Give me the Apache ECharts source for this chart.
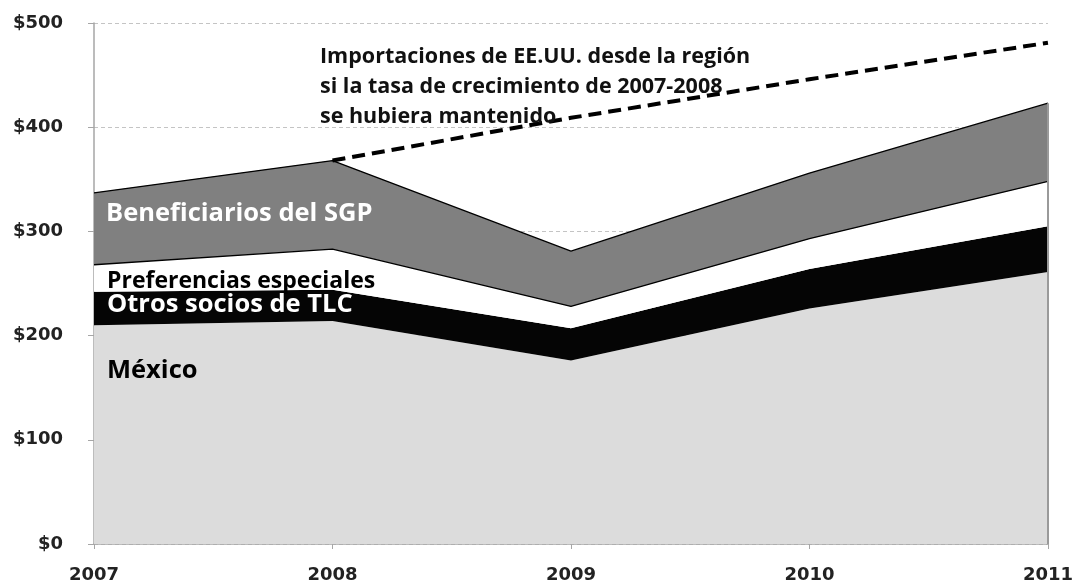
<!DOCTYPE html>
<html>
<head>
<meta charset="utf-8">
<title>Importaciones de EE.UU.</title>
<script src="https://cdn.jsdelivr.net/npm/echarts@6/dist/echarts.min.js"></script>
<style>
  html, body { margin: 0; padding: 0; background: #fff; }
  #chart { width: 1076px; height: 584px; }
</style>
</head>
<body>
<div id="chart"></div>
<script>
// datos (miles de millones de US$)
var years = ['2007', '2008', '2009', '2010', '2011']
var mexico = [210, 214, 176, 226, 261]
var otrosTLC = [32, 30, 31, 38, 44]
var preferencias = [26, 39, 21, 29, 43]
var sgp = [69, 85, 53, 63, 75]
// proyeccion con la tasa de 2007-2008
var proyeccion = [null, 368, 409, 446, 481]
var yTicks = [0, 100, 200, 300, 400, 500]

var totals = years.map(function(y, i) {
  return mexico[i] + otrosTLC[i] + preferencias[i] + sgp[i]
})
var last = years.length - 1

var axisFont = { fontFamily: 'DejaVu Sans', fontWeight: 'bold', fontSize: 18, color: '#222' }
var labelFont = 'Open Sans'

var chart = echarts.init(document.getElementById('chart'))

function areaSeries(name, data, color, line) {
  return {
    name: name,
    type: 'line',
    stack: 'total',
    data: data,
    showSymbol: false,
    silent: true,
    lineStyle: line ? { color: '#000', width: 1.3 } : { width: 0 },
    areaStyle: { color: color, opacity: 1 },
    itemStyle: { color: color }
  }
}

var sgpSeries = areaSeries('Beneficiarios del SGP', sgp, '#808080', true)
// borde derecho del area
sgpSeries.markLine = {
  silent: true,
  symbol: 'none',
  label: { show: false },
  lineStyle: { color: '#9a9a9a', width: 2, type: 'solid' },
  data: [[{ coord: [last, 0] }, { coord: [last, totals[last]] }]]
}

chart.setOption({
  animation: false,
  grid: { left: 94, right: 28, top: 23, bottom: 39 },
  xAxis: {
    type: 'category',
    data: years,
    boundaryGap: false,
    axisLine: { lineStyle: { color: '#a6a6a6', width: 1.5 } },
    axisTick: { show: true, length: 5, lineStyle: { color: '#a6a6a6' } },
    axisLabel: Object.assign({ margin: 22 }, axisFont),
    splitLine: { show: false }
  },
  yAxis: {
    type: 'value',
    min: yTicks[0],
    max: yTicks[yTicks.length - 1],
    interval: 100,
    axisLine: { show: true, lineStyle: { color: '#a6a6a6', width: 1.5 } },
    axisTick: { show: true, length: 6, lineStyle: { color: '#a6a6a6' } },
    axisLabel: Object.assign({
      margin: 31,
      formatter: function(v) { return '$' + v }
    }, axisFont),
    splitLine: { show: true, lineStyle: { color: '#c4c4c4', type: [4, 3], width: 1 } }
  },
  series: [
    areaSeries('México', mexico, '#dcdcdc', false),
    areaSeries('Otros socios de TLC', otrosTLC, '#050505', false),
    areaSeries('Preferencias especiales', preferencias, '#ffffff', true),
    sgpSeries,
    {
      name: 'Proyección',
      type: 'line',
      data: proyeccion,
      showSymbol: false,
      silent: true,
      z: 5,
      lineStyle: { color: '#000', width: 4, type: [13, 7] }
    }
  ],
  graphic: [
    {
      type: 'text', left: 320, top: 42, z: 10,
      style: {
        text: 'Importaciones de EE.UU. desde la región\nsi la tasa de crecimiento de 2007-2008\nse hubiera mantenido',
        fontFamily: labelFont, fontWeight: 'bold', fontSize: 21.5, lineHeight: 30, fill: '#111'
      }
    },
    {
      type: 'text', left: 106, top: 201, z: 10,
      style: { text: 'Beneficiarios del SGP', fontFamily: labelFont, fontWeight: 'bold', fontSize: 25.5, fill: '#fff' }
    },
    {
      type: 'text', left: 107, top: 270, z: 10,
      style: { text: 'Preferencias especiales', fontFamily: labelFont, fontWeight: 'bold', fontSize: 23, fill: '#000' }
    },
    {
      type: 'text', left: 107, top: 292, z: 11,
      style: { text: 'Otros socios de TLC', fontFamily: labelFont, fontWeight: 'bold', fontSize: 25.5, fill: '#fff' }
    },
    {
      type: 'text', left: 107, top: 358, z: 10,
      style: { text: 'México', fontFamily: labelFont, fontWeight: 'bold', fontSize: 25.5, fill: '#000' }
    }
  ]
})
</script>
</body>
</html>
